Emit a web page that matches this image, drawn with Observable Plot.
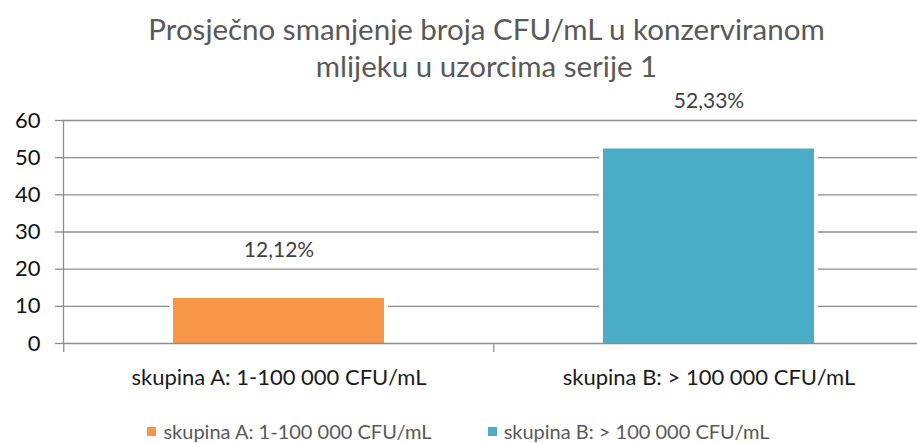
<!DOCTYPE html>
<html>
<head>
<meta charset="utf-8">
<script src="https://cdn.jsdelivr.net/npm/d3@7"></script>
<script src="https://cdn.jsdelivr.net/npm/@observablehq/plot@0.6"></script>
<style>
  html, body { margin: 0; padding: 0; background: #fff; }
  body { width: 917px; height: 443px; position: relative; overflow: hidden; font-family: Lato, "Liberation Sans", sans-serif; }
  #title { position: absolute; left: 0; width: 973px; top: 10px; text-align: center; color: #595959; font-size: 29.5px; line-height: 37px; }
  #chart { position: absolute; left: 0; top: 85px; }
  #legend { position: absolute; top: 420px; left: 0; width: 917px; display: flex; justify-content: center; gap: 56px; color: #595959; font-size: 20px; line-height: 22px; }
  .item { display: flex; align-items: center; gap: 7px; }
  .sw { width: 9px; height: 9px; display: inline-block; }
</style>
</head>
<body>
<div id="title">Prosječno smanjenje broja CFU/mL u konzerviranom<br>mlijeku u uzorcima serije 1</div>
<div id="chart"></div>
<div id="legend"></div>
<script>
const categories = ["skupina A: 1-100 000 CFU/mL", "skupina B: > 100 000 CFU/mL"];
const values = [12.12, 52.33];
const valueLabels = ["12,12%", "52,33%"];
const colors = ["#F79646", "#4BACC6"];
const yTicks = [0, 10, 20, 30, 40, 50, 60];

const data = categories.map((c, i) => ({category: c, value: values[i], label: valueLabels[i], color: colors[i]}));

const xRange = [63, 924];
const step = (xRange[1] - xRange[0]) / categories.length;
const grid = "#8c8c8c";

const chart = Plot.plot({
  width: 917,
  height: 320,
  marginTop: 35,
  marginBottom: 62,
  marginLeft: 63,
  marginRight: 0,
  style: {fontFamily: "Lato, 'Liberation Sans', sans-serif", background: "transparent", overflow: "visible"},
  x: {domain: categories, range: xRange, paddingInner: 0.51, paddingOuter: 0.255},
  y: {domain: [0, 60]},
  marks: [
    Plot.ruleY(yTicks.slice(1), {stroke: grid, strokeWidth: 1.3}),
    Plot.barY(data, {x: "category", y: "value", fill: "white", stroke: "white", strokeWidth: 8}),
    Plot.barY(data, {x: "category", y: "value", fill: "color"}),
    Plot.ruleY([0], {stroke: grid, strokeWidth: 1.3}),
    Plot.frame({anchor: "left", stroke: grid, strokeWidth: 1.3}),
    Plot.axisY({ticks: yTicks, tickSize: 8, tickPadding: 15, fontSize: 22, stroke: grid, strokeWidth: 1.3, fill: "#111", label: null}),
    Plot.axisX({tickSize: 9, tickFormat: () => "", dx: -step / 2, stroke: grid, strokeWidth: 1.3, label: null}),
    Plot.axisX({tickSize: 0, tickPadding: 26, fontSize: 22, fill: "#1a1a1a", label: null}),
    Plot.text(data, {x: "category", y: "value", text: "label", dy: -48, fontSize: 21, fill: "#404040"})
  ]
});
document.getElementById("chart").appendChild(chart);

const legend = d3.select("#legend");
categories.forEach((c, i) => {
  const it = legend.append("div").attr("class", "item");
  it.append("span").attr("class", "sw").style("background", colors[i]);
  it.append("span").text(c);
});
</script>
</body>
</html>
